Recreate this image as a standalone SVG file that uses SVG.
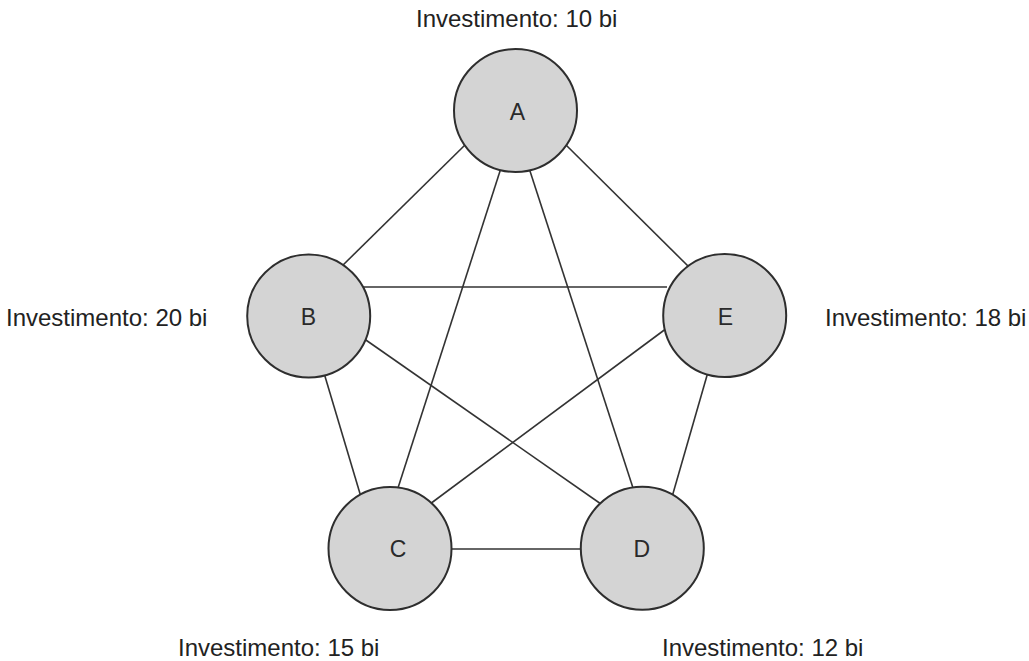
<svg xmlns="http://www.w3.org/2000/svg" width="1029" height="661" viewBox="0 0 1029 661">
<style>
.edge{stroke:#333;stroke-width:1.6;fill:none}
.node{fill:#d4d4d4;stroke:#2e2e2e;stroke-width:2}
.lbl{font-family:"Liberation Sans",Arial,sans-serif;font-size:23px;fill:#2a2a2a;text-anchor:middle}
.inv{font-family:"Liberation Sans",Arial,sans-serif;font-size:24px;fill:#222}
</style>
<rect width="1029" height="661" fill="#fff"/>
<g id="connectors">
<line class="edge" x1="466" y1="144" x2="340" y2="268"/>
<line class="edge" x1="565" y1="144" x2="690" y2="268"/>
<line class="edge" x1="501" y1="168" x2="397" y2="491"/>
<line class="edge" x1="529" y1="168" x2="634" y2="491"/>
<line class="edge" x1="363" y1="287" x2="667" y2="287"/>
<line class="edge" x1="324" y1="373" x2="361" y2="497"/>
<line class="edge" x1="363" y1="338" x2="601" y2="504"/>
<line class="edge" x1="667" y1="328" x2="430" y2="504"/>
<line class="edge" x1="708" y1="372" x2="672" y2="497"/>
<line class="edge" x1="448" y1="549" x2="585" y2="549"/>
</g>
<g id="node-A">
<circle class="node" cx="515.5" cy="110.5" r="61.5"/>
<text class="lbl" x="517.5" y="120">A</text>
<text class="inv" x="416" y="27">Investimento: 10 bi</text>
</g>
<g id="node-B">
<circle class="node" cx="308.7" cy="316" r="61.5"/>
<text class="lbl" x="308.5" y="325">B</text>
<text class="inv" x="6" y="326">Investimento: 20 bi</text>
</g>
<g id="node-E">
<circle class="node" cx="724.7" cy="315.5" r="61.5"/>
<text class="lbl" x="725.5" y="325">E</text>
<text class="inv" x="825" y="326">Investimento: 18 bi</text>
</g>
<g id="node-C">
<circle class="node" cx="390" cy="548.5" r="61.5"/>
<text class="lbl" x="398" y="557">C</text>
<text class="inv" x="178" y="656">Investimento: 15 bi</text>
</g>
<g id="node-D">
<circle class="node" cx="642.3" cy="548.3" r="61.5"/>
<text class="lbl" x="641.7" y="557">D</text>
<text class="inv" x="662" y="656">Investimento: 12 bi</text>
</g>
</svg>
